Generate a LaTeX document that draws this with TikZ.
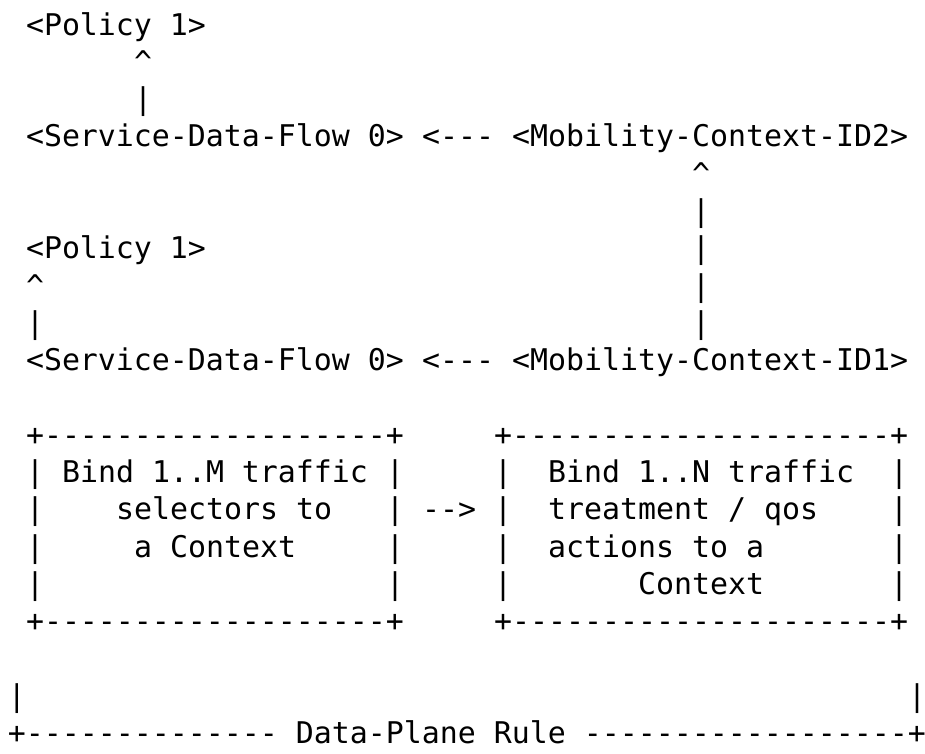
\documentclass[tikz,border=0pt]{standalone}
\usepackage{fontspec}
\setmonofont{DejaVu Sans Mono}
\begin{document}
\begin{tikzpicture}[
  asc/.style={anchor=base west, inner sep=0pt, outer sep=0pt,
    font=\ttfamily\fontsize{29.9}{37.5}\selectfont, text=black}]
\useasboundingbox[fill=white] (0pt,0pt) rectangle (925pt,-753pt);
\begin{scope}[shift={(8pt,-35pt)}, x=18pt, y=-37.3pt]
% upper chain
\node[asc] (pol2) at (1,0) {<Policy 1>};
\node[asc] (up2)  at (7,1) {\textasciicircum};
\node[asc] (bar2) at (7,2) {|};
\node[asc] (sdf2) at (1,3) {<Service-Data-Flow 0>};
\node[asc] (lar2) at (23,3) {<---};
\node[asc] (mc2)  at (28,3) {<Mobility-Context-ID2>};
% vertical link ID1 -> ID2
\node[asc] (upm)  at (38,4) {\textasciicircum};
\node[asc] (vm1)  at (38,5) {|};
\node[asc] (vm2)  at (38,6) {|};
\node[asc] (vm3)  at (38,7) {|};
\node[asc] (vm4)  at (38,8) {|};
% lower chain
\node[asc] (pol1) at (1,6) {<Policy 1>};
\node[asc] (up1)  at (1,7) {\textasciicircum};
\node[asc] (bar1) at (1,8) {|};
\node[asc] (sdf1) at (1,9) {<Service-Data-Flow 0>};
\node[asc] (lar1) at (23,9) {<---};
\node[asc] (mc1)  at (28,9) {<Mobility-Context-ID1>};
% left box
\node[asc] (lbt) at (1,11) {+-------------------+};
\node[asc] (lbb) at (1,16) {+-------------------+};
\foreach \r in {12,13,14,15} {
  \node[asc] (lbl\r) at (1,\r) {|};
  \node[asc] (lbr\r) at (21,\r) {|};
}
\node[asc] (lt1) at (3,12) {Bind 1..M traffic};
\node[asc] (lt2) at (6,13) {selectors to};
\node[asc] (lt3) at (7,14) {a Context};
% arrow between boxes
\node[asc] (rar) at (23,13) {-->};
% right box
\node[asc] (rbt) at (27,11) {+---------------------+};
\node[asc] (rbb) at (27,16) {+---------------------+};
\foreach \r in {12,13,14,15} {
  \node[asc] (rbl\r) at (27,\r) {|};
  \node[asc] (rbr\r) at (49,\r) {|};
}
\node[asc] (rt1) at (30,12) {Bind 1..N traffic};
\node[asc] (rt2) at (30,13) {treatment / qos};
\node[asc] (rt3) at (30,14) {actions to a};
\node[asc] (rt4) at (35,15) {Context};
% data-plane rule bracket
\node[asc] (dl) at (0,18) {|};
\node[asc] (dr) at (50,18) {|};
\node[asc] (dpr) at (0,19) {+-------------- Data-Plane Rule ------------------+};
\end{scope}
\end{tikzpicture}
\end{document}
